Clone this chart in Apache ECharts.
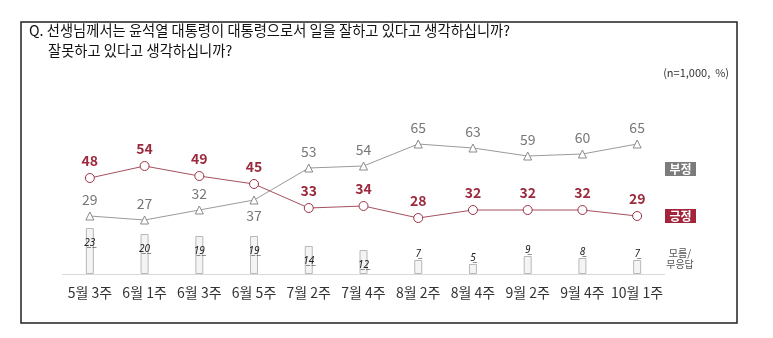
<!DOCTYPE html>
<html>
<head>
<meta charset="utf-8">
<script src="https://cdn.jsdelivr.net/npm/echarts@6/dist/echarts.min.js"></script>
<style>
  html, body { margin: 0; padding: 0; background: #fff; }
  #chart { width: 773px; height: 338px; }
</style>
</head>
<body>
<div id="chart"></div>
<script>
// Survey waves (weeks)
const categories = ['5월 3주', '6월 1주', '6월 3주', '6월 5주', '7월 2주', '7월 4주', '8월 2주', '8월 4주', '9월 2주', '9월 4주', '10월 1주'];
// 긍정 (doing well), 부정 (doing poorly), 모름/무응답 (don't know / no answer), in %
const positive = [48, 54, 49, 45, 33, 34, 28, 32, 32, 32, 29];
const negative = [29, 27, 32, 37, 53, 54, 65, 63, 59, 60, 65];
const unknown = [23, 20, 19, 19, 14, 12, 7, 5, 9, 8, 7];

const FONT = '"Noto Sans CJK KR", "Noto Sans", sans-serif';
const RED = '#a3253c';
const GRAY = '#777777';

// underline digits with combining low line
const underline = s => String(s).split('').map(c => c + '\u0332').join('');

const chart = echarts.init(document.getElementById('chart'));

chart.setOption({
  animation: false,
  backgroundColor: '#ffffff',
  textStyle: { fontFamily: FONT },
  grid: { left: 62.5, right: 108.5, top: 74, bottom: 64 },
  xAxis: {
    type: 'category',
    data: categories,
    boundaryGap: true,
    axisLine: { lineStyle: { color: '#d9d9d9', width: 1 } },
    axisTick: { show: false },
    axisLabel: { color: '#333', fontSize: 14, margin: 12, interval: 0, fontFamily: FONT }
  },
  yAxis: {
    type: 'value',
    min: 0,
    max: 100,
    show: false,
    splitLine: { show: false }
  },
  series: [
    {
      name: '모름/무응답',
      type: 'bar',
      barWidth: 8,
      z: 1,
      itemStyle: { color: '#f4f4f4', borderColor: '#b8b8b8', borderWidth: 1 },
      data: unknown.map(v => ({
        value: v,
        label: v >= 10
          ? { position: 'insideTop', distance: 9 }
          : { position: 'top', distance: 2 }
      })),
      label: {
        show: true,
        color: '#222',
        fontSize: 10,
        fontStyle: 'italic',
        fontFamily: FONT,
        formatter: p => underline(p.value)
      }
    },
    {
      name: '부정',
      type: 'line',
      z: 3,
      data: negative.map((v, i) => ({
        value: v,
        label: i === 3 ? { position: 'bottom', distance: 4 } : undefined
      })),
      symbol: 'triangle',
      symbolSize: 8,
      lineStyle: { color: '#9a9a9a', width: 1 },
      itemStyle: { color: '#ffffff', borderColor: '#8a8a8a', borderWidth: 1 },
      label: {
        show: true,
        position: 'top',
        distance: 5,
        color: GRAY,
        fontSize: 14,
        fontFamily: FONT
      }
    },
    {
      name: '긍정',
      type: 'line',
      z: 4,
      data: positive,
      symbol: 'circle',
      symbolSize: 9,
      lineStyle: { color: '#a5505e', width: 1 },
      itemStyle: { color: '#ffffff', borderColor: '#9e3347', borderWidth: 1 },
      label: {
        show: true,
        position: 'top',
        distance: 5,
        color: '#9c2a3e',
        fontSize: 14,
        fontWeight: 'bold',
        fontFamily: FONT
      }
    }
  ],
  graphic: [
    {
      type: 'rect',
      shape: { x: 21, y: 22, width: 716, height: 301 },
      style: { fill: 'none', stroke: '#222', lineWidth: 1.5 },
      silent: true
    },
    {
      type: 'text',
      left: 29, top: 23,
      style: { text: 'Q. 선생님께서는 윤석열 대통령이 대통령으로서 일을 잘하고 있다고 생각하십니까?', fill: '#111', font: '14.3px ' + FONT }
    },
    {
      type: 'text',
      left: 48, top: 43,
      style: { text: '잘못하고 있다고 생각하십니까?', fill: '#111', font: '14.3px ' + FONT }
    },
    {
      type: 'text',
      right: 44, top: 67,
      style: { text: '(n=1,000,  %)', fill: '#333', font: '11px ' + FONT }
    },
    {
      type: 'group',
      left: 665, top: 162,
      children: [
        { type: 'rect', shape: { x: 0, y: 0, width: 31, height: 14 }, style: { fill: '#7b7b7b' } },
        { type: 'text', x: 15.5, y: 7, style: { text: '부정', fill: '#fff', font: 'bold 12px ' + FONT, align: 'center', verticalAlign: 'middle' } }
      ]
    },
    {
      type: 'group',
      left: 665, top: 209,
      children: [
        { type: 'rect', shape: { x: 0, y: 0, width: 31, height: 14 }, style: { fill: RED } },
        { type: 'text', x: 15.5, y: 7, style: { text: '긍정', fill: '#fff', font: 'bold 12px ' + FONT, align: 'center', verticalAlign: 'middle' } }
      ]
    },
    {
      type: 'text',
      x: 680, y: 248,
      style: { text: '모름/\n무응답', fill: '#555', font: '10px ' + FONT, align: 'center', lineHeight: 11 }
    }
  ]
});
</script>
</body>
</html>
